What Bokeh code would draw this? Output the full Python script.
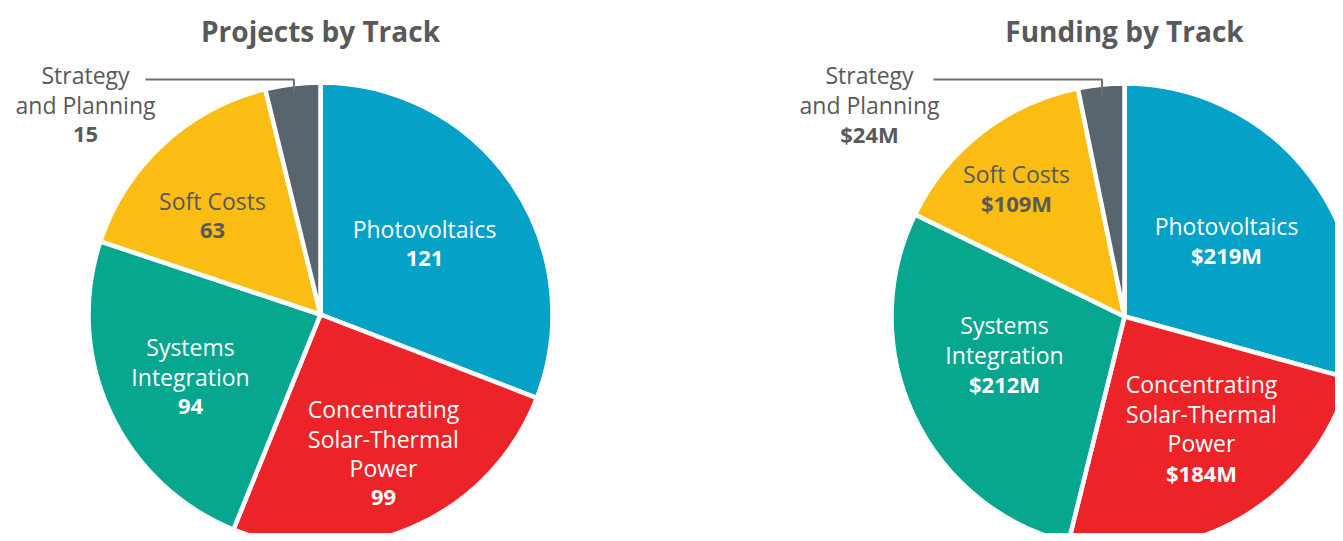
import math
from bokeh.plotting import figure
from bokeh.models import Range1d
from bokeh.core.properties import value
from bokeh.embed import file_html
from bokeh.resources import INLINE

# ---- data ----
tracks = ["Photovoltaics", "Concentrating\nSolar-Thermal\nPower", "Systems\nIntegration",
          "Soft Costs", "Strategy\nand Planning"]
projects = [121, 99, 94, 63, 15]
projects_labels = ["121", "99", "94", "63", "15"]
funding = [219, 184, 212, 109, 24]
funding_labels = ["$219M", "$184M", "$212M", "$109M", "$24M"]
titles = ["Projects by Track", "Funding by Track"]

# ---- style / layout ----
colors = ["#05a1c6", "#ec2328", "#07a68f", "#fbbd14", "#58646e"]
text_colors = ["white", "white", "white", "#58595b", "#58595b"]
GRAY = "#58595b"
W, H = 1335, 533
FONT = "Open Sans"

def py(pix):  # pixel y in picture -> data y
    return H - pix

p = figure(width=W, height=H, output_backend="svg", toolbar_location=None,
           x_range=Range1d(0, W), y_range=Range1d(0, H), min_border=0)
p.axis.visible = False
p.grid.visible = False
p.outline_line_color = None

pies = [
    dict(cx=320, cy=314, r=232, vals=projects, labs=projects_labels, title=titles[0],
         offs=[(104, -71), (63, 139), (-130, 62), (-108, -99), (-235, -210)],
         leader_x0=145),
    dict(cx=1124, cy=316, r=233, vals=funding, labs=funding_labels, title=titles[1],
         offs=[(102, -76), (77, 112), (-120, 38), (-108, -128), (-255, -212)],
         leader_x0=933),
]
LH = 29.5

for pie in pies:
    cx, cy, r = pie["cx"], pie["cy"], pie["r"]
    total = float(sum(pie["vals"]))
    starts, ends = [], []
    cum = 0.0
    for v in pie["vals"]:
        starts.append(math.pi / 2 - 2 * math.pi * cum / total)
        cum += v
        ends.append(math.pi / 2 - 2 * math.pi * cum / total)
    p.wedge(x=[cx] * 5, y=[py(cy)] * 5, radius=r, start_angle=starts, end_angle=ends,
            direction="clock", fill_color=colors, line_color="white", line_width=4.5)

    # title
    p.text(x=[cx], y=[py(30)], text=[pie["title"]], text_font=value(FONT),
           text_font_style="bold", text_font_size="28px", text_color=GRAY,
           text_align="center", text_baseline="middle")

    # labels
    for i, name in enumerate(tracks):
        lines = name.split("\n")
        n = len(lines) + 1
        dx, dy = pie["offs"][i]
        top = cy + dy - (n - 1) * LH / 2
        xs = cx + dx
        for k, ln in enumerate(lines):
            p.text(x=[xs], y=[py(top + k * LH)], text=[ln], text_font=value(FONT),
                   text_font_size="23px", text_color=text_colors[i],
                   text_align="center", text_baseline="middle")
        p.text(x=[xs], y=[py(top + (n - 1) * LH)], text=[pie["labs"][i]], text_font=value(FONT),
               text_font_style="bold", text_font_size="22px", text_color=text_colors[i],
               text_align="center", text_baseline="middle")

    # leader line for smallest slice
    mid = (starts[4] + ends[4]) / 2
    lx = cx + (r - 10) * math.cos(mid)
    ly_end = cy - (r - 10) * math.sin(mid)
    p.line(x=[pie["leader_x0"], lx, lx], y=[py(79), py(79), py(ly_end)],
           line_color="#6d6e71", line_width=2)

open("out.html", "w").write(file_html(p, INLINE))
